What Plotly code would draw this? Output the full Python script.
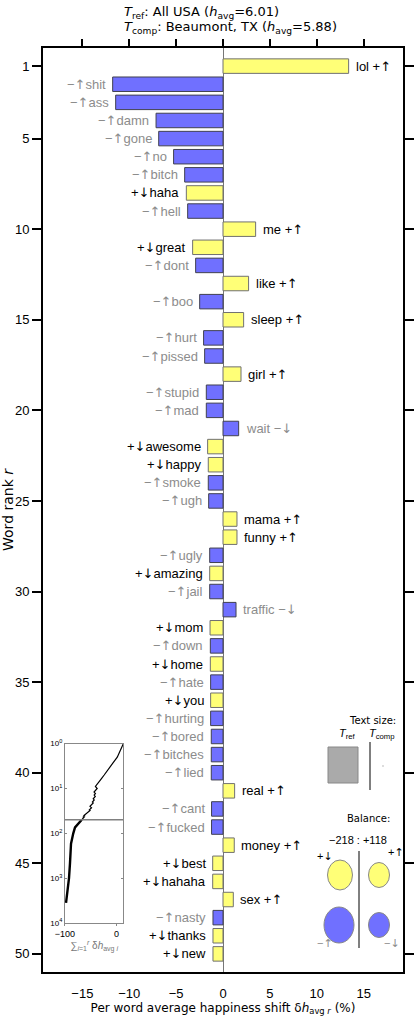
import numpy as np
import plotly.graph_objects as go

# Word shift data (rank order)
words = [
    "lol", "shit", "ass", "damn", "gone", "no", "bitch", "haha", "hell", "me",
    "great", "dont", "like", "boo", "sleep", "hurt", "pissed", "girl", "stupid", "mad",
    "wait", "awesome", "happy", "smoke", "ugh", "mama", "funny", "ugly", "amazing", "jail",
    "traffic", "mom", "down", "home", "hate", "you", "hurting", "bored", "bitches", "lied",
    "real", "cant", "fucked", "money", "best", "hahaha", "sex", "nasty", "thanks", "new",
]
word_types = [
    "+↑", "−↑", "−↑", "−↑", "−↑", "−↑", "−↑", "+↓", "−↑", "+↑",
    "+↓", "−↑", "+↑", "−↑", "+↑", "−↑", "−↑", "+↑", "−↑", "−↑",
    "−↓", "+↓", "+↓", "−↑", "−↑", "+↑", "+↑", "−↑", "+↓", "−↑",
    "−↓", "+↓", "−↑", "+↓", "−↑", "+↓", "−↑", "−↑", "−↑", "−↑",
    "+↑", "−↑", "−↑", "+↑", "+↓", "+↓", "+↑", "−↑", "+↓", "+↓",
]
shifts = [
    13.4, -11.77, -11.45, -7.14, -6.86, -5.27, -4.09, -3.91, -3.77, 3.48,
    -3.24, -2.92, 2.73, -2.49, 2.2, -2.07, -1.96, 1.92, -1.78, -1.78,
    1.67, -1.64, -1.57, -1.57, -1.53, 1.49, 1.49, -1.42, -1.42, -1.42,
    1.39, -1.38, -1.35, -1.35, -1.32, -1.32, -1.32, -1.25, -1.25, -1.25,
    1.24, -1.22, -1.22, 1.2, -1.1, -1.1, 1.1, -1.07, -1.07, -1.07,
]
ranks = list(range(1, len(words) + 1))

# cumulative curve beyond rank 50
tail_ranks = [74, 100, 171, 470, 1000, 3560]
tail_cumsum = [-80.5, -83.9, -88.3, -90.3, -92.2, -98.0]

ref_label = "All USA"
ref_havg = 6.01
comp_label = "Beaumont, TX"
comp_havg = 5.88
balance_neg = -218
balance_pos = 118

FONT = "Liberation Sans"
ARROW_FONT = "DejaVu Sans"
YELLOW = "#FFFF77"
BLUE = "#7070FF"
GREY_TXT = "#8c8c8c"

colors = [YELLOW if t.startswith("+") else BLUE for t in word_types]
outlines = ["#707070" if t.startswith("+") else "#404050" for t in word_types]
txt_colors = ["black" if t.startswith("+") else GREY_TXT for t in word_types]


def fmt_type(t, color):
    # sign in the label font, arrow in a font with tall arrows
    return f"{t[0]}<span style='font-family:{ARROW_FONT};color:{color}'>{t[1]}</span>"


fig = go.Figure()

fig.add_trace(go.Bar(
    x=shifts, y=ranks, orientation="h", width=0.8,
    marker=dict(color=colors, line=dict(color=outlines, width=1)),
    hoverinfo="skip", showlegend=False,
))

# labels: right side for positive bars, left side for negative bars
for w, t, s, r, c in zip(words, word_types, shifts, ranks, txt_colors):
    if s > 0:
        txt, anchor, shift = f"{w} {fmt_type(t, c)}", "left", 5
    else:
        txt, anchor, shift = f"{fmt_type(t, c)}{w}", "right", -5
    fig.add_annotation(x=s, y=r, xref="x", yref="y", text=txt, showarrow=False,
                       xanchor=anchor, yanchor="middle", xshift=shift,
                       font=dict(family=FONT, size=13, color=c))

# inset: cumulative sum
cum = np.cumsum(shifts)
fig.add_trace(go.Scatter(
    x=cum, y=ranks, mode="lines", line=dict(color="black", width=1.2),
    xaxis="x2", yaxis="y2", showlegend=False,
))
fig.add_trace(go.Scatter(
    x=[cum[-1]] + tail_cumsum, y=[ranks[-1]] + tail_ranks, mode="lines",
    line=dict(color="black", width=2.4), xaxis="x2", yaxis="y2", showlegend=False,
))
fig.add_trace(go.Scatter(
    x=[-120, 30], y=[ranks[-1], ranks[-1]], mode="lines",
    line=dict(color="#808080", width=1.5), xaxis="x2", yaxis="y2", showlegend=False,
))
# invisible trace so the top tick axis renders
fig.add_trace(go.Scatter(x=[0], y=[1], xaxis="x3", yaxis="y", mode="markers",
                         marker=dict(opacity=0), showlegend=False, hoverinfo="skip"))

ticks_x = [-15, -10, -5, 0, 5, 10, 15]
ticks_y = [1, 5, 10, 15, 20, 25, 30, 35, 40, 45, 50]

fig.update_layout(
    width=415, height=1018,
    margin=dict(l=43, r=12, t=48, b=46, autoexpand=False),
    plot_bgcolor="white", paper_bgcolor="white",
    font=dict(family=FONT, size=13, color="black"),
    xaxis=dict(
        range=[-19.2, 19.2], tickvals=ticks_x, ticks="outside", ticklen=8,
        tickcolor="rgba(0,0,0,0)", showline=True, linewidth=2, linecolor="black",
        mirror=True, showgrid=False, zeroline=True, zerolinecolor="#777777",
        zerolinewidth=1, tickfont=dict(size=13), automargin=False,
        title=dict(
            text="Per word average happiness shift δ<i>h</i><sub>avg <i>r</i></sub> (%)",
            font=dict(family="DejaVu Sans", size=12), standoff=2,
        ),
    ),
    xaxis3=dict(
        range=[-19.2, 19.2], tickvals=ticks_x, ticks="outside", ticklen=8,
        tickwidth=2, tickcolor="black", overlaying="x", side="top", anchor="y",
        showticklabels=False, showgrid=False, zeroline=False, showline=False,
        automargin=False,
    ),
    yaxis=dict(
        range=[51, 0], tickvals=ticks_y, ticks="outside", ticklen=9, tickwidth=2,
        tickcolor="black", showline=True, linewidth=2, linecolor="black",
        mirror="ticks", showgrid=False, zeroline=False, tickfont=dict(size=13),
        automargin=False,
        title=dict(text="Word rank <i>r</i>", font=dict(family="DejaVu Sans", size=14),
                   standoff=4),
    ),
    xaxis2=dict(
        domain=[0.0611, 0.2231], anchor="y2", range=[-100, 13.4],
        tickvals=[-100, 0], ticktext=["−100", "0"], ticks="outside", ticklen=2,
        tickcolor="#888888", showline=True, linecolor="#888888", linewidth=1,
        mirror=True, showgrid=False, zeroline=False, tickfont=dict(size=9),
        automargin=False,
        title=dict(text="∑<sub><i>i</i>=1</sub><sup><i>r</i></sup> δ<i>h</i><sub>avg <i>i</i></sub>",
                   font=dict(size=10, color="#777777"), standoff=2),
    ),
    yaxis2=dict(
        domain=[0.0531, 0.2471], anchor="x2", type="log", range=[4, 0],
        tickvals=[1, 10, 100, 1000, 10000],
        ticktext=["10<sup>0</sup>", "10<sup>1</sup>", "10<sup>2</sup>", "10<sup>3</sup>", "10<sup>4</sup>"],
        ticks="inside", ticklen=2, tickcolor="#888888", showline=True,
        linecolor="#888888", linewidth=1, mirror="allticks", showgrid=False,
        zeroline=False, tickfont=dict(size=8), automargin=False,
    ),
)


def px_x(p):
    return (p - 43) / 360


def px_y(p):
    return (972 - p) / 924


def note(x, y, text, anchor="center", **font):
    fig.add_annotation(x=px_x(x), y=px_y(y), xref="paper", yref="paper", text=text,
                       xanchor=anchor, yanchor="middle", showarrow=False, font=font)


# title
note(122, 12, f"<i>T</i><sub>ref</sub>: {ref_label} (<i>h</i><sub>avg</sub>={ref_havg:.2f})",
     anchor="left", family="DejaVu Sans", size=13)
note(122, 27, f"<i>T</i><sub>comp</sub>: {comp_label} (<i>h</i><sub>avg</sub>={comp_havg:.2f})",
     anchor="left", family="DejaVu Sans", size=13)

# text size legend
note(398, 720, "Text size:", anchor="right", family="DejaVu Sans", size=10)
note(347, 734, "<i>T</i><sub>ref</sub>", size=11)
note(382, 734, "<i>T</i><sub>comp</sub>", size=11)
fig.add_shape(type="rect", xref="paper", yref="paper", x0=px_x(328), x1=px_x(358),
              y0=px_y(783), y1=px_y(747), fillcolor="#aaaaaa", line=dict(color="#888888", width=1))
fig.add_shape(type="line", xref="paper", yref="paper", x0=px_x(370), x1=px_x(370),
              y0=px_y(790), y1=px_y(742), line=dict(color="black", width=1))
fig.add_shape(type="rect", xref="paper", yref="paper", x0=px_x(382.5), x1=px_x(383.5),
              y0=px_y(766.5), y1=px_y(765.5), fillcolor="#777777", line=dict(width=0))

# balance legend
note(368, 818, "Balance:", family="DejaVu Sans", size=10)
note(358, 840, f"{balance_neg:d} : +{balance_pos:d}".replace("-", "−"), size=11)
fig.add_shape(type="line", xref="paper", yref="paper", x0=px_x(359), x1=px_x(359),
              y0=px_y(948), y1=px_y(851), line=dict(color="black", width=1))
for cx, cy, w, h, col in [(340, 875, 25, 30, YELLOW), (379, 875, 21, 25, YELLOW),
                          (339, 925, 30, 36, BLUE), (379, 925, 21, 25, BLUE)]:
    fig.add_shape(type="circle", xref="paper", yref="paper",
                  x0=px_x(cx - w / 2), x1=px_x(cx + w / 2),
                  y0=px_y(cy + h / 2), y1=px_y(cy - h / 2),
                  fillcolor=col, line=dict(color="#888888", width=1))
for x, y, t, c in [(325, 856, "+↓", "black"), (396, 852, "+↑", "black"),
                   (325, 943, "−↑", GREY_TXT), (392, 943, "−↓", GREY_TXT)]:
    note(x, y, fmt_type(t, c), size=11, color=c)

fig.write_html("out.html", config={"displayModeBar": False},
               post_script="document.body.style.margin='0px';")
